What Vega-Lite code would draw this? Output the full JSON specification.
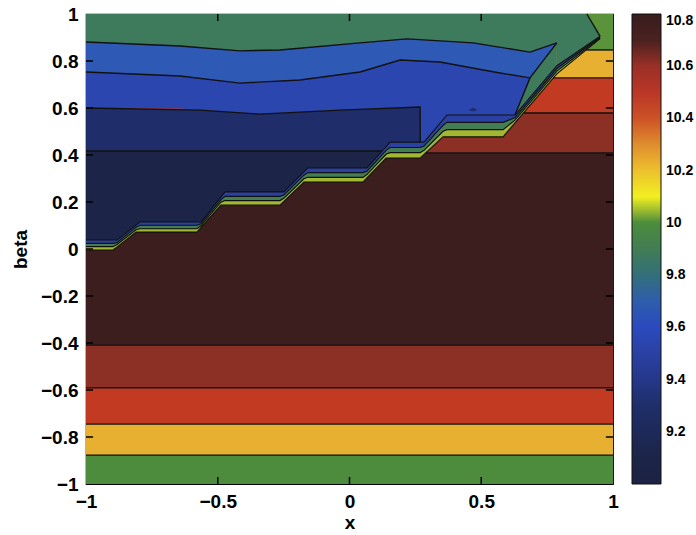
{
  "$schema": "https://vega.github.io/schema/vega-lite/v6.json",
  "width": 527,
  "height": 470,
  "autosize": {"type": "none"},
  "padding": {"left": 86, "top": 14, "right": 83, "bottom": 51},
  "background": "white",
  "config": {
    "view": {"stroke": "#000", "strokeWidth": 1.2},
    "font": "Liberation Sans",
    "axis": {"labelFont": "Liberation Sans", "labelFontWeight": "bold", "labelFontSize": 19, "labelColor": "#000", "titleFont": "Liberation Sans", "titleFontWeight": "bold", "titleFontSize": 19, "titleColor": "#000", "ticks": false, "tickSize": 0, "domain": false, "grid": false}
  },
  "datasets": {
    "base": [
      {"b": "GYb", "v": 10.0, "x": -1, "lo": -1, "hi": -0.877}, {"b": "GYb", "v": 10.0, "x": 1, "lo": -1, "hi": -0.877},
      {"b": "YEb", "v": 10.25, "x": -1, "lo": -0.877, "hi": -0.745}, {"b": "YEb", "v": 10.25, "x": 1, "lo": -0.877, "hi": -0.745},
      {"b": "ROb", "v": 10.45, "x": -1, "lo": -0.745, "hi": -0.591}, {"b": "ROb", "v": 10.45, "x": 1, "lo": -0.745, "hi": -0.591},
      {"b": "RBb", "v": 10.63, "x": -1, "lo": -0.591, "hi": -0.409}, {"b": "RBb", "v": 10.63, "x": 1, "lo": -0.591, "hi": -0.409},
      {"b": "DB", "v": 10.75, "x": -1, "lo": -0.409, "hi": 0.409}, {"b": "DB", "v": 10.75, "x": 1, "lo": -0.409, "hi": 0.409},
      {"b": "RBt", "v": 10.63, "x": -1, "lo": 0.409, "hi": 0.579}, {"b": "RBt", "v": 10.63, "x": 1, "lo": 0.409, "hi": 0.579},
      {"b": "ROt", "v": 10.45, "x": -1, "lo": 0.579, "hi": 0.728}, {"b": "ROt", "v": 10.45, "x": 1, "lo": 0.579, "hi": 0.728},
      {"b": "YEt", "v": 10.25, "x": -1, "lo": 0.728, "hi": 0.847}, {"b": "YEt", "v": 10.25, "x": 1, "lo": 0.728, "hi": 0.847},
      {"b": "GYt", "v": 10.01, "x": -1, "lo": 0.847, "hi": 1}, {"b": "GYt", "v": 10.01, "x": 1, "lo": 0.847, "hi": 1}
    ],
    "upper": [
      {"b": "DN", "v": 9.1, "x": -1, "lo": 0.038, "hi": 0.417},
      {"b": "DN", "v": 9.1, "x": -0.898, "lo": 0.038, "hi": 0.417},
      {"b": "DN", "v": 9.1, "x": -0.882, "lo": 0.038, "hi": 0.417},
      {"b": "DN", "v": 9.1, "x": -0.81, "lo": 0.102, "hi": 0.417},
      {"b": "DN", "v": 9.1, "x": -0.795, "lo": 0.115, "hi": 0.417},
      {"b": "DN", "v": 9.1, "x": -0.579, "lo": 0.115, "hi": 0.417},
      {"b": "DN", "v": 9.1, "x": -0.564, "lo": 0.115, "hi": 0.417},
      {"b": "DN", "v": 9.1, "x": -0.488, "lo": 0.222, "hi": 0.417},
      {"b": "DN", "v": 9.1, "x": -0.472, "lo": 0.243, "hi": 0.417},
      {"b": "DN", "v": 9.1, "x": -0.264, "lo": 0.243, "hi": 0.417},
      {"b": "DN", "v": 9.1, "x": -0.249, "lo": 0.243, "hi": 0.417},
      {"b": "DN", "v": 9.1, "x": -0.173, "lo": 0.328, "hi": 0.417},
      {"b": "DN", "v": 9.1, "x": -0.158, "lo": 0.345, "hi": 0.417},
      {"b": "DN", "v": 9.1, "x": 0.051, "lo": 0.345, "hi": 0.417},
      {"b": "DN", "v": 9.1, "x": 0.066, "lo": 0.345, "hi": 0.417},
      {"b": "DN", "v": 9.1, "x": 0.123, "lo": 0.417, "hi": 0.417},
      {"b": "NV", "v": 9.3, "x": -1, "lo": 0.417, "hi": 0.6},
      {"b": "NV", "v": 9.3, "x": -0.567, "lo": 0.417, "hi": 0.591},
      {"b": "NV", "v": 9.3, "x": -0.34, "lo": 0.417, "hi": 0.574},
      {"b": "NV", "v": 9.3, "x": -0.036, "lo": 0.417, "hi": 0.591},
      {"b": "NV", "v": 9.3, "x": 0.123, "lo": 0.417, "hi": 0.598},
      {"b": "NV", "v": 9.3, "x": 0.139, "lo": 0.436, "hi": 0.598},
      {"b": "NV", "v": 9.3, "x": 0.154, "lo": 0.455, "hi": 0.599},
      {"b": "NV", "v": 9.3, "x": 0.268, "lo": 0.455, "hi": 0.604},
      {"b": "B2", "v": 9.55, "x": -1, "lo": 0.6, "hi": 0.753},
      {"b": "B2", "v": 9.55, "x": -0.643, "lo": 0.598, "hi": 0.736},
      {"b": "B2", "v": 9.55, "x": -0.567, "lo": 0.591, "hi": 0.726},
      {"b": "B2", "v": 9.55, "x": -0.416, "lo": 0.58, "hi": 0.706},
      {"b": "B2", "v": 9.55, "x": -0.34, "lo": 0.574, "hi": 0.71},
      {"b": "B2", "v": 9.55, "x": -0.188, "lo": 0.582, "hi": 0.719},
      {"b": "B2", "v": 9.55, "x": -0.036, "lo": 0.591, "hi": 0.742},
      {"b": "B2", "v": 9.55, "x": 0.04, "lo": 0.594, "hi": 0.753},
      {"b": "B2", "v": 9.55, "x": 0.192, "lo": 0.601, "hi": 0.804},
      {"b": "B2", "v": 9.55, "x": 0.268, "lo": 0.604, "hi": 0.8},
      {"b": "B2", "v": 9.55, "x": 0.2685, "lo": 0.455, "hi": 0.8},
      {"b": "B2", "v": 9.55, "x": 0.283, "lo": 0.455, "hi": 0.799},
      {"b": "B2", "v": 9.55, "x": 0.343, "lo": 0.534, "hi": 0.796},
      {"b": "B2", "v": 9.55, "x": 0.355, "lo": 0.55, "hi": 0.794},
      {"b": "B2", "v": 9.55, "x": 0.37, "lo": 0.57, "hi": 0.79},
      {"b": "B2", "v": 9.55, "x": 0.571, "lo": 0.57, "hi": 0.749},
      {"b": "B2", "v": 9.55, "x": 0.583, "lo": 0.57, "hi": 0.747},
      {"b": "B2", "v": 9.55, "x": 0.628, "lo": 0.57, "hi": 0.737},
      {"b": "B2", "v": 9.55, "x": 0.685, "lo": 0.728, "hi": 0.728},
      {"b": "B1", "v": 9.68, "x": -1, "lo": 0.753, "hi": 0.881},
      {"b": "B1", "v": 9.68, "x": -0.643, "lo": 0.736, "hi": 0.864},
      {"b": "B1", "v": 9.68, "x": -0.416, "lo": 0.706, "hi": 0.843},
      {"b": "B1", "v": 9.68, "x": -0.264, "lo": 0.715, "hi": 0.847},
      {"b": "B1", "v": 9.68, "x": -0.188, "lo": 0.719, "hi": 0.854},
      {"b": "B1", "v": 9.68, "x": 0.04, "lo": 0.753, "hi": 0.877},
      {"b": "B1", "v": 9.68, "x": 0.192, "lo": 0.804, "hi": 0.892},
      {"b": "B1", "v": 9.68, "x": 0.218, "lo": 0.803, "hi": 0.894},
      {"b": "B1", "v": 9.68, "x": 0.343, "lo": 0.796, "hi": 0.886},
      {"b": "B1", "v": 9.68, "x": 0.469, "lo": 0.77, "hi": 0.877},
      {"b": "B1", "v": 9.68, "x": 0.571, "lo": 0.749, "hi": 0.859},
      {"b": "B1", "v": 9.68, "x": 0.685, "lo": 0.728, "hi": 0.838},
      {"b": "B1", "v": 9.68, "x": 0.787, "lo": 0.877, "hi": 0.877},
      {"b": "TGw", "v": 9.85, "x": 0.628, "lo": 0.57, "hi": 0.57},
      {"b": "TGw", "v": 9.85, "x": 0.685, "lo": 0.645, "hi": 0.728},
      {"b": "TGw", "v": 9.85, "x": 0.787, "lo": 0.78, "hi": 0.877},
      {"b": "TG", "v": 9.85, "x": -1, "lo": 0.881, "hi": 1},
      {"b": "TG", "v": 9.85, "x": -0.643, "lo": 0.864, "hi": 1},
      {"b": "TG", "v": 9.85, "x": -0.416, "lo": 0.843, "hi": 1},
      {"b": "TG", "v": 9.85, "x": -0.264, "lo": 0.847, "hi": 1},
      {"b": "TG", "v": 9.85, "x": 0.04, "lo": 0.877, "hi": 1},
      {"b": "TG", "v": 9.85, "x": 0.218, "lo": 0.894, "hi": 1},
      {"b": "TG", "v": 9.85, "x": 0.469, "lo": 0.877, "hi": 1},
      {"b": "TG", "v": 9.85, "x": 0.685, "lo": 0.838, "hi": 1},
      {"b": "TG", "v": 9.85, "x": 0.787, "lo": 0.877, "hi": 1},
      {"b": "TG", "v": 9.85, "x": 0.7875, "lo": 0.78, "hi": 1},
      {"b": "TG", "v": 9.85, "x": 0.901, "lo": 0.867, "hi": 1},
      {"b": "TG", "v": 9.85, "x": 0.914, "lo": 0.877, "hi": 0.975},
      {"b": "TG", "v": 9.85, "x": 0.951, "lo": 0.905, "hi": 0.905},
      {"b": "NVs", "v": 9.3, "x": 0.452, "lo": 0.592, "hi": 0.592},
      {"b": "NVs", "v": 9.3, "x": 0.469, "lo": 0.585, "hi": 0.602},
      {"b": "NVs", "v": 9.3, "x": 0.486, "lo": 0.592, "hi": 0.592}
    ],
    "stack": [
      {"x": -1, "lo": -0.004, "m1": 0.01, "m2": 0.024, "hi": 0.038},
      {"x": -0.898, "lo": -0.004, "m1": 0.01, "m2": 0.024, "hi": 0.038},
      {"x": -0.882, "lo": 0.009, "m1": 0.019, "m2": 0.028, "hi": 0.038},
      {"x": -0.81, "lo": 0.072, "m1": 0.082, "m2": 0.092, "hi": 0.102},
      {"x": -0.795, "lo": 0.072, "m1": 0.086, "m2": 0.101, "hi": 0.115},
      {"x": -0.579, "lo": 0.072, "m1": 0.086, "m2": 0.101, "hi": 0.115},
      {"x": -0.564, "lo": 0.091, "m1": 0.099, "m2": 0.107, "hi": 0.115},
      {"x": -0.488, "lo": 0.187, "m1": 0.199, "m2": 0.21, "hi": 0.222},
      {"x": -0.472, "lo": 0.187, "m1": 0.206, "m2": 0.224, "hi": 0.243},
      {"x": -0.264, "lo": 0.187, "m1": 0.206, "m2": 0.224, "hi": 0.243},
      {"x": -0.249, "lo": 0.203, "m1": 0.216, "m2": 0.23, "hi": 0.243},
      {"x": -0.173, "lo": 0.285, "m1": 0.299, "m2": 0.314, "hi": 0.328},
      {"x": -0.158, "lo": 0.285, "m1": 0.305, "m2": 0.325, "hi": 0.345},
      {"x": 0.051, "lo": 0.285, "m1": 0.305, "m2": 0.325, "hi": 0.345},
      {"x": 0.066, "lo": 0.303, "m1": 0.317, "m2": 0.331, "hi": 0.345},
      {"x": 0.139, "lo": 0.387, "m1": 0.403, "m2": 0.42, "hi": 0.436},
      {"x": 0.154, "lo": 0.387, "m1": 0.41, "m2": 0.432, "hi": 0.455},
      {"x": 0.268, "lo": 0.387, "m1": 0.41, "m2": 0.432, "hi": 0.455},
      {"x": 0.283, "lo": 0.403, "m1": 0.42, "m2": 0.438, "hi": 0.455},
      {"x": 0.355, "lo": 0.477, "m1": 0.501, "m2": 0.526, "hi": 0.55},
      {"x": 0.37, "lo": 0.477, "m1": 0.508, "m2": 0.539, "hi": 0.57},
      {"x": 0.583, "lo": 0.477, "m1": 0.508, "m2": 0.539, "hi": 0.57},
      {"x": 0.628, "lo": 0.537, "m1": 0.548, "m2": 0.559, "hi": 0.57},
      {"x": 0.787, "lo": 0.745, "m1": 0.757, "m2": 0.768, "hi": 0.78},
      {"x": 0.951, "lo": 0.895, "m1": 0.898, "m2": 0.902, "hi": 0.905}
    ],
    "contours": [
      {"c": "hb1", "x": -1, "y": -0.877}, {"c": "hb1", "x": 1, "y": -0.877},
      {"c": "hb2", "x": -1, "y": -0.745}, {"c": "hb2", "x": 1, "y": -0.745},
      {"c": "hb3", "x": -1, "y": -0.591}, {"c": "hb3", "x": 1, "y": -0.591},
      {"c": "hb4", "x": -1, "y": -0.409}, {"c": "hb4", "x": 1, "y": -0.409},
      {"c": "ht4", "x": 0.289, "y": 0.409}, {"c": "ht4", "x": 1, "y": 0.409},
      {"c": "ht3", "x": 0.66, "y": 0.579}, {"c": "ht3", "x": 1, "y": 0.579},
      {"c": "ht2", "x": 0.774, "y": 0.728}, {"c": "ht2", "x": 1, "y": 0.728},
      {"c": "ht1", "x": 0.898, "y": 0.847}, {"c": "ht1", "x": 1, "y": 0.847},
      {"c": "L1", "x": -1, "y": 0.881}, {"c": "L1", "x": -0.643, "y": 0.864}, {"c": "L1", "x": -0.416, "y": 0.843},
      {"c": "L1", "x": -0.264, "y": 0.847}, {"c": "L1", "x": 0.04, "y": 0.877}, {"c": "L1", "x": 0.218, "y": 0.894},
      {"c": "L1", "x": 0.469, "y": 0.877}, {"c": "L1", "x": 0.685, "y": 0.838}, {"c": "L1", "x": 0.787, "y": 0.877},
      {"c": "E", "x": 0.628, "y": 0.57}, {"c": "E", "x": 0.685, "y": 0.728}, {"c": "E", "x": 0.787, "y": 0.877},
      {"c": "L2", "x": -1, "y": 0.753}, {"c": "L2", "x": -0.643, "y": 0.736}, {"c": "L2", "x": -0.416, "y": 0.706},
      {"c": "L2", "x": -0.188, "y": 0.719}, {"c": "L2", "x": 0.04, "y": 0.753}, {"c": "L2", "x": 0.192, "y": 0.804},
      {"c": "L2", "x": 0.343, "y": 0.796}, {"c": "L2", "x": 0.571, "y": 0.749}, {"c": "L2", "x": 0.685, "y": 0.728},
      {"c": "L3", "x": -1, "y": 0.6}, {"c": "L3", "x": -0.567, "y": 0.591}, {"c": "L3", "x": -0.34, "y": 0.574},
      {"c": "L3", "x": -0.036, "y": 0.591}, {"c": "L3", "x": 0.268, "y": 0.604}, {"c": "L3", "x": 0.2685, "y": 0.455},
      {"c": "L4", "x": -1, "y": 0.417}, {"c": "L4", "x": 0.123, "y": 0.417},
      {"c": "UB", "x": 0.901, "y": 1}, {"c": "UB", "x": 0.951, "y": 0.905}
    ],
    "xticks": [{"t": -0.5}, {"t": 0}, {"t": 0.5}],
    "yticks": [{"t": -0.8}, {"t": -0.6}, {"t": -0.4}, {"t": -0.2}, {"t": 0}, {"t": 0.2}, {"t": 0.4}, {"t": 0.6}, {"t": 0.8}]
  },
  "layer": [
    {
      "data": {"name": "base"},
      "mark": {"type": "area", "interpolate": "linear"},
      "encoding": {
        "x": {"field": "x", "type": "quantitative", "scale": {"domain": [-1, 1], "nice": false, "zero": false},
              "axis": {"orient": "bottom", "values": [-1, -0.5, 0, 0.5, 1], "format": "~g", "labelPadding": 8, "labelFlush": false, "title": "x", "titleX": 263.5, "titleY": 44, "titleBaseline": "alphabetic"}},
        "y": {"field": "lo", "type": "quantitative", "scale": {"domain": [-1, 1], "nice": false, "zero": false},
              "axis": {"orient": "left", "values": [-1, -0.8, -0.6, -0.4, -0.2, 0, 0.2, 0.4, 0.6, 0.8, 1], "format": "~g", "labelPadding": 8, "labelFlush": false, "title": "beta", "titleX": -66, "titleY": 235, "titleAngle": -90, "titleAlign": "center", "titleBaseline": "middle"}},
        "y2": {"field": "hi"},
        "detail": {"field": "b"},
        "color": {
          "field": "v", "type": "quantitative",
          "scale": {
            "domain": [9.0, 9.1, 9.3, 9.45, 9.55, 9.62, 9.68, 9.78, 9.85, 9.95, 10.0, 10.06, 10.1, 10.17, 10.25, 10.35, 10.45, 10.55, 10.63, 10.7, 10.75, 10.8],
            "range": ["#1b2244", "#1c2548", "#1f2e6a", "#283c98", "#2b46ae", "#2a4cc4", "#2e5ab6", "#2f6a86", "#3e7a5c", "#457f4c", "#4c8c3c", "#a2b832", "#f2ef20", "#eecb2c", "#e8b030", "#d66a2a", "#c33a22", "#b0322a", "#8c2f24", "#4a2120", "#3c1e1f", "#381c1e"],
            "interpolate": "rgb"
          },
          "legend": {"orient": "none", "legendX": 546, "legendY": 0, "direction": "vertical", "gradientLength": 470, "gradientThickness": 29, "title": null, "padding": 0, "values": [9.2, 9.4, 9.6, 9.8, 10, 10.2, 10.4, 10.6, 10.8], "format": "~g", "labelFont": "Liberation Sans", "labelFontWeight": "bold", "labelFontSize": 14, "labelColor": "#000", "labelOffset": 5, "gradientStrokeColor": "#111", "gradientStrokeWidth": 1}
        }
      }
    },
    {
      "data": {"name": "upper"},
      "mark": {"type": "area", "interpolate": "linear"},
      "encoding": {
        "x": {"field": "x", "type": "quantitative", "axis": null},
        "y": {"field": "lo", "type": "quantitative", "axis": null},
        "y2": {"field": "hi"},
        "detail": {"field": "b"},
        "color": {"field": "v", "type": "quantitative", "legend": null}
      }
    },
    {
      "data": {"name": "stack"},
      "mark": {"type": "area", "interpolate": "linear"},
      "encoding": {
        "x": {"field": "x", "type": "quantitative", "axis": null},
        "y": {"field": "lo", "type": "quantitative", "axis": null},
        "y2": {"field": "m1"},
        "color": {"datum": 10.06, "type": "quantitative", "legend": null}
      }
    },
    {
      "data": {"name": "stack"},
      "mark": {"type": "area", "interpolate": "linear"},
      "encoding": {
        "x": {"field": "x", "type": "quantitative", "axis": null},
        "y": {"field": "m1", "type": "quantitative", "axis": null},
        "y2": {"field": "m2"},
        "color": {"datum": 9.9, "type": "quantitative", "legend": null}
      }
    },
    {
      "data": {"name": "stack"},
      "mark": {"type": "area", "interpolate": "linear"},
      "encoding": {
        "x": {"field": "x", "type": "quantitative", "axis": null},
        "y": {"field": "m2", "type": "quantitative", "axis": null},
        "y2": {"field": "hi"},
        "color": {"datum": 9.5, "type": "quantitative", "legend": null}
      }
    },
    {
      "data": {"name": "contours"},
      "mark": {"type": "line", "color": "#111", "strokeWidth": 1.4, "interpolate": "linear"},
      "encoding": {
        "x": {"field": "x", "type": "quantitative", "axis": null},
        "y": {"field": "y", "type": "quantitative", "axis": null},
        "detail": {"field": "c"}
      }
    },
    {
      "data": {"name": "stack"},
      "transform": [{"fold": ["lo", "m1", "m2", "hi"], "as": ["k", "val"]}],
      "mark": {"type": "line", "color": "#111", "strokeWidth": 1.1, "interpolate": "linear"},
      "encoding": {
        "x": {"field": "x", "type": "quantitative", "axis": null},
        "y": {"field": "val", "type": "quantitative", "axis": null},
        "detail": {"field": "k"}
      }
    },
    {
      "data": {"name": "xticks"},
      "mark": {"type": "rule", "color": "#000", "strokeWidth": 1.5},
      "encoding": {
        "x": {"field": "t", "type": "quantitative", "axis": null},
        "y": {"datum": -1, "type": "quantitative", "axis": null},
        "y2": {"datum": -0.97}
      }
    },
    {
      "data": {"name": "xticks"},
      "mark": {"type": "rule", "color": "#000", "strokeWidth": 1.5},
      "encoding": {
        "x": {"field": "t", "type": "quantitative", "axis": null},
        "y": {"datum": 1, "type": "quantitative", "axis": null},
        "y2": {"datum": 0.97}
      }
    },
    {
      "data": {"name": "yticks"},
      "mark": {"type": "rule", "color": "#000", "strokeWidth": 1.5},
      "encoding": {
        "y": {"field": "t", "type": "quantitative", "axis": null},
        "x": {"datum": -1, "type": "quantitative", "axis": null},
        "x2": {"datum": -0.973}
      }
    },
    {
      "data": {"name": "yticks"},
      "mark": {"type": "rule", "color": "#000", "strokeWidth": 1.5},
      "encoding": {
        "y": {"field": "t", "type": "quantitative", "axis": null},
        "x": {"datum": 1, "type": "quantitative", "axis": null},
        "x2": {"datum": 0.973}
      }
    }
  ],
  "resolve": {"axis": {"x": "independent", "y": "independent"}}
}
